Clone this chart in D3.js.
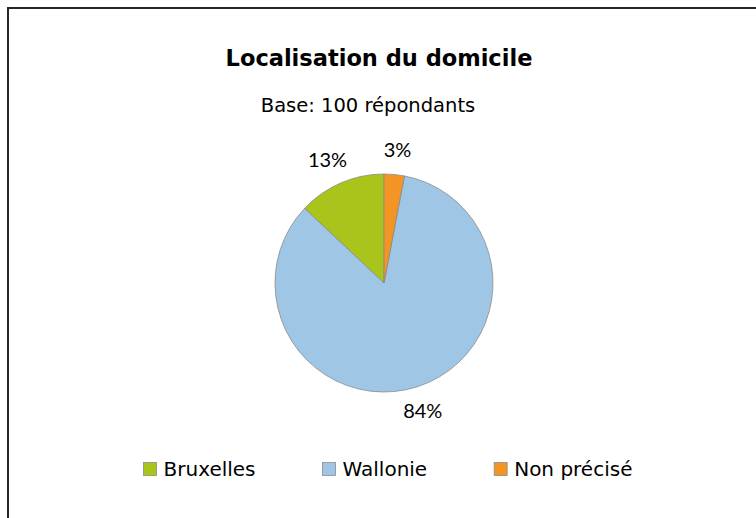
<!DOCTYPE html>
<html>
  <head>
    <meta charset="utf-8">
    <title>Localisation du domicile</title>
    <script src="https://cdn.jsdelivr.net/npm/d3@7"></script>
    <style>
      body
      {
        margin: 0px;
        padding: 0px;
        background: white;
      }

      svg
      {
        display: block;
      }

      .handwritten
      {
        font-family: "Comic Sans MS", "DejaVu Sans", sans-serif;
        fill: black;
      }

      .pctLabel
      {
        font-family: Lato, "Open Sans", sans-serif;
        font-size: 20px;
        fill: black;
        text-anchor: middle;
      }

      .slice
      {
        stroke: #8c8c8c;
        stroke-width: 0.8px;
      }
    </style>
  </head>
  <body>
    <svg id="chart"></svg>

    <script>
      //--- Data
      var categories = ["Bruxelles", "Wallonie", "Non précisé"];
      var values = [13, 84, 3];
      var colors = ["#abc41c", "#a0c6e6", "#f39424"];

      var chartTitle = "Localisation du domicile";
      var subTitle = "Base: 100 répondants";

      var width = 756;
      var height = 518;

      var cx = 384;
      var cy = 283;
      var radius = 109;
      var labelRadius = 134;

      var svg = d3.select("#chart")
          .attr("width", width)
          .attr("height", height);

      //--- Outer frame (runs off the right and bottom edges)
      svg.append("rect")
          .attr("x", 8)
          .attr("y", 8)
          .attr("width", width + 10)
          .attr("height", height + 10)
          .attr("fill", "white")
          .attr("stroke", "#262626")
          .attr("stroke-width", 2);

      //--- Titles
      svg.append("text")
          .classed("handwritten", true)
          .attr("x", 379)
          .attr("y", 66)
          .attr("text-anchor", "middle")
          .attr("font-size", "22.5px")
          .attr("font-weight", "bold")
          .text(chartTitle);

      svg.append("text")
          .classed("handwritten", true)
          .attr("x", 368)
          .attr("y", 112)
          .attr("text-anchor", "middle")
          .attr("font-size", "19.5px")
          .text(subTitle);

      //--- Pie, drawn counter-clockwise from 12 o'clock
      var table = categories.map((c, i) => ({ name: c, value: values[i], color: colors[i] }));

      var pie = d3.pie()
          .sort(null)
          .value(d => d.value)
          .startAngle(0)
          .endAngle(-2 * Math.PI);

      var arc = d3.arc()
          .innerRadius(0)
          .outerRadius(radius);

      var arcs = pie(table);

      var g = svg.append("g")
          .attr("transform", "translate(" + cx + "," + cy + ")");

      g.selectAll("path")
          .data(arcs)
          .enter()
            .append("path")
              .classed("slice", true)
              .attr("d", arc)
              .attr("fill", d => d.data.color);

      //--- Percent labels outside the pie
      var fmt = d3.format(".0%");
      var mid = d => (d.startAngle + d.endAngle) / 2;
      g.selectAll("text")
          .data(arcs)
          .enter()
            .append("text")
              .classed("pctLabel", true)
              .attr("x", d => labelRadius * Math.sin(mid(d)) + 9 * Math.sin(mid(d)) * Math.cos(mid(d)))
              .attr("y", d => -labelRadius * Math.cos(mid(d)))
              .attr("dy", "0.36em")
              .text(d => fmt(d.value / d3.sum(values)));

      //--- Legend
      var legend = svg.append("g");
      var boxSize = 13;
      var boxGap = 7;
      var itemGap = 67;
      var legendY = 469;

      var items = legend.selectAll("g")
          .data(table)
          .enter()
            .append("g");

      items.append("rect")
          .attr("width", boxSize)
          .attr("height", boxSize)
          .attr("y", legendY - boxSize / 2)
          .attr("fill", d => d.color)
          .attr("stroke", "#8c8c8c")
          .attr("stroke-width", 0.8);

      items.append("text")
          .classed("handwritten", true)
          .attr("x", boxSize + boxGap)
          .attr("y", legendY)
          .attr("dy", "0.36em")
          .attr("font-size", "20px")
          .text(d => d.name);

      //--- Lay out items side by side, centred
      var offsets = [];
      var pos = 0;
      items.each(function ()
      {
        offsets.push(pos);
        pos += this.getBBox().width + itemGap;
      });
      var total = pos - itemGap;
      var startX = 388 - total / 2;
      items.attr("transform", (d, i) => "translate(" + (startX + offsets[i]) + ",0)");
    </script>
  </body>
</html>
